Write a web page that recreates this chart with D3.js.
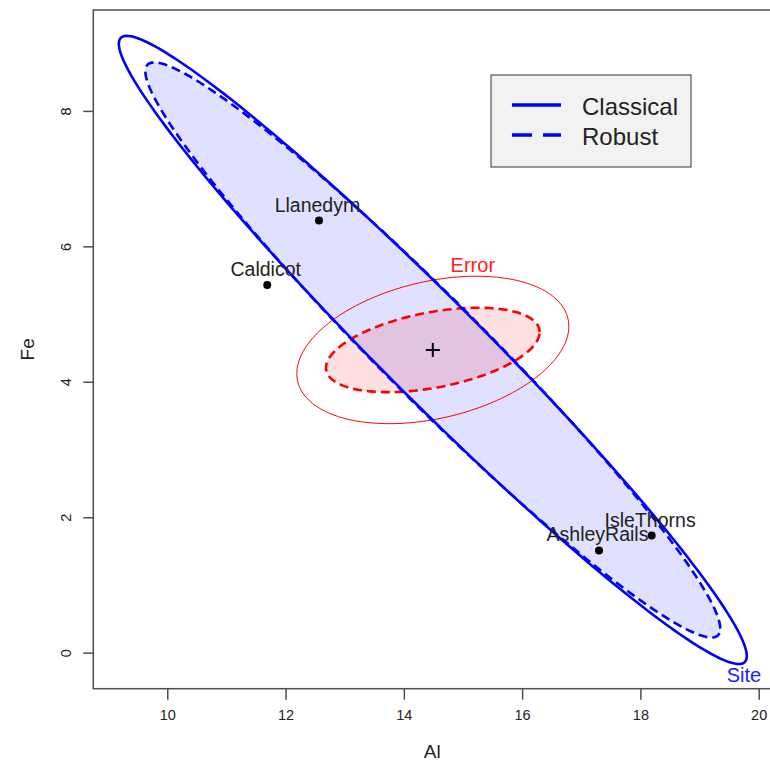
<!DOCTYPE html>
<html>
<head>
<meta charset="utf-8">
<script src="https://cdn.jsdelivr.net/npm/d3@7"></script>
<style>
  html, body { margin: 0; padding: 0; background: #fff; }
  svg { display: block; font-family: "Liberation Sans", Arial, sans-serif; }
</style>
</head>
<body>
<svg id="chart" width="770" height="762"></svg>
<script>
// Site means (Al, Fe)
const siteNames = ["Llanedyrn", "Caldicot", "IsleThorns", "AshleyRails"];
const siteAl = [12.565, 11.69, 18.19, 17.30];
const siteFe = [6.38, 5.43, 1.73, 1.51];

// Grand mean
const grandMean = [14.49, 4.47];

// Ellipse shape matrices [s_xx, s_xy, s_yy] in (Al, Fe) units
const hClassical = [28.19, -24.00, 21.51];
const hRobust = [23.63, -20.00, 18.03];
const eClassical = [5.288, 0.802, 1.185];
const eRobust = [3.261, 0.4746, 0.3886];

// Axis ticks
const xTicks = [10, 12, 14, 16, 18, 20];
const yTicks = [0, 2, 4, 6, 8];

// Legend entries
const legendLabels = ["Classical", "Robust"];

const svg = d3.select("#chart");

const x = d3.scaleLinear().domain([8.749, 20.21]).range([93.3, 771.1]);
const y = d3.scaleLinear().domain([-0.532, 9.49]).range([688.7, 10]);

const pLeft = x.range()[0], pRight = x.range()[1];
const pTop = y.range()[1], pBottom = y.range()[0];

svg.append("defs").append("clipPath").attr("id", "plotclip")
  .append("rect").attr("x", pLeft).attr("y", pTop)
  .attr("width", pRight - pLeft).attr("height", pBottom - pTop);

// Ellipse outline points from centre and shape matrix (Cholesky factor)
function ellipsePoints(center, m, n = 180) {
  const l11 = Math.sqrt(m[0]);
  const l21 = m[1] / l11;
  const l22 = Math.sqrt(Math.max(m[2] - l21 * l21, 0));
  return d3.range(n).map(i => {
    const t = 2 * Math.PI * i / n;
    const c = Math.cos(t), s = Math.sin(t);
    return [center[0] + l11 * c, center[1] + l21 * c + l22 * s];
  });
}

const line = d3.line().x(d => x(d[0])).y(d => y(d[1])).curve(d3.curveLinearClosed);

const plot = svg.append("g").attr("clip-path", "url(#plotclip)");

const hC = ellipsePoints(grandMean, hClassical);
const hR = ellipsePoints(grandMean, hRobust);
const eC = ellipsePoints(grandMean, eClassical);
const eR = ellipsePoints(grandMean, eRobust);

// Fills of the robust ellipses
plot.append("path").attr("d", line(hR)).attr("fill", "#0000ff").attr("fill-opacity", 0.12).attr("stroke", "none");
plot.append("path").attr("d", line(eR)).attr("fill", "#ff0000").attr("fill-opacity", 0.12).attr("stroke", "none");

// Error ellipses
plot.append("path").attr("d", line(eC)).attr("fill", "none").attr("stroke", "#ff0000").attr("stroke-width", 1);
plot.append("path").attr("d", line(eR)).attr("fill", "none").attr("stroke", "#ff0000")
  .attr("stroke-width", 2.6).attr("stroke-dasharray", "9,5");

// Site ellipses
plot.append("path").attr("d", line(hR)).attr("fill", "none").attr("stroke", "#0000ff")
  .attr("stroke-width", 2.6).attr("stroke-dasharray", "9,5");
plot.append("path").attr("d", line(hC)).attr("fill", "none").attr("stroke", "#0000ff").attr("stroke-width", 2.6);

// Ellipse labels
const lowest = hC.reduce((a, b) => (b[1] < a[1] ? b : a));
svg.append("text").attr("x", x(lowest[0]) + 4).attr("y", y(lowest[1]) + 18)
  .attr("text-anchor", "middle").attr("font-size", 20).attr("fill", "#2020ff").text("Site");
const highest = eC.reduce((a, b) => (b[1] > a[1] ? b : a));
svg.append("text").attr("x", x(highest[0]) - 2).attr("y", y(highest[1]) - 4)
  .attr("text-anchor", "middle").attr("font-size", 20).attr("fill", "#ff2020").text("Error");

// Site means
const sites = siteNames.map((nm, i) => ({ name: nm, al: siteAl[i], fe: siteFe[i] }));
plot.selectAll("circle.site").data(sites).enter().append("circle")
  .attr("cx", d => x(d.al)).attr("cy", d => y(d.fe)).attr("r", 4).attr("fill", "#000");
svg.selectAll("text.site").data(sites).enter().append("text")
  .attr("x", d => x(d.al) - 1.5).attr("y", d => y(d.fe) - 9)
  .attr("text-anchor", "middle").attr("font-size", 19.5).attr("fill", "#222")
  .text(d => d.name);

// Grand mean marker
const gx = x(grandMean[0]), gy = y(grandMean[1]);
svg.append("path").attr("d", `M${gx - 7},${gy}H${gx + 7}M${gx},${gy - 7}V${gy + 7}`)
  .attr("stroke", "#000").attr("stroke-width", 2);

// Frame
svg.append("rect").attr("x", pLeft).attr("y", pTop).attr("width", pRight - pLeft).attr("height", pBottom - pTop)
  .attr("fill", "none").attr("stroke", "#4d4d4d").attr("stroke-width", 1.5);

// Axes
const xAxis = d3.axisBottom(x).tickValues(xTicks).tickSize(11).tickPadding(10).tickFormat(d3.format("d"));
const gX = svg.append("g").attr("transform", `translate(0,${pBottom})`).call(xAxis);
gX.select(".domain").remove();
gX.selectAll("line").attr("stroke", "#4d4d4d").attr("stroke-width", 1.5);
gX.selectAll("text").attr("font-size", 14.5).attr("fill", "#222").attr("font-family", "Liberation Sans, Arial, sans-serif");

const yAxis = d3.axisLeft(y).tickValues(yTicks).tickSize(10).tickFormat(d3.format("d"));
const gY = svg.append("g").attr("transform", `translate(${pLeft},0)`).call(yAxis);
gY.select(".domain").remove();
gY.selectAll("line").attr("stroke", "#4d4d4d").attr("stroke-width", 1.5);
gY.selectAll("text")
  .attr("font-size", 14.5).attr("fill", "#222").attr("font-family", "Liberation Sans, Arial, sans-serif")
  .attr("x", null).attr("dy", null)
  .attr("text-anchor", "middle")
  .attr("transform", "translate(-27.5,0) rotate(-90)")
  .attr("y", 0).attr("dy", "0.36em");

// Axis titles
svg.append("text").attr("x", (pLeft + pRight) / 2).attr("y", 758).attr("text-anchor", "middle")
  .attr("font-size", 19).attr("fill", "#222").text("Al");
svg.append("text").attr("transform", `translate(34,${(pTop + pBottom) / 2}) rotate(-90)`)
  .attr("text-anchor", "middle").attr("font-size", 19).attr("fill", "#222").text("Fe");

// Legend
const lg = svg.append("g").attr("transform", "translate(491,75)");
lg.append("rect").attr("width", 200).attr("height", 92).attr("fill", "#f2f2f2")
  .attr("stroke", "#333").attr("stroke-width", 1);
legendLabels.forEach((lab, i) => {
  const yy = 30 + i * 30;
  lg.append("line").attr("x1", 21).attr("x2", 70).attr("y1", yy).attr("y2", yy)
    .attr("stroke", "#0000ff").attr("stroke-width", 3.5)
    .attr("stroke-dasharray", i === 1 ? "20,11" : null);
  lg.append("text").attr("x", 91).attr("y", yy + 10).attr("font-size", 24).attr("fill", "#222").text(lab);
});
</script>
</body>
</html>
